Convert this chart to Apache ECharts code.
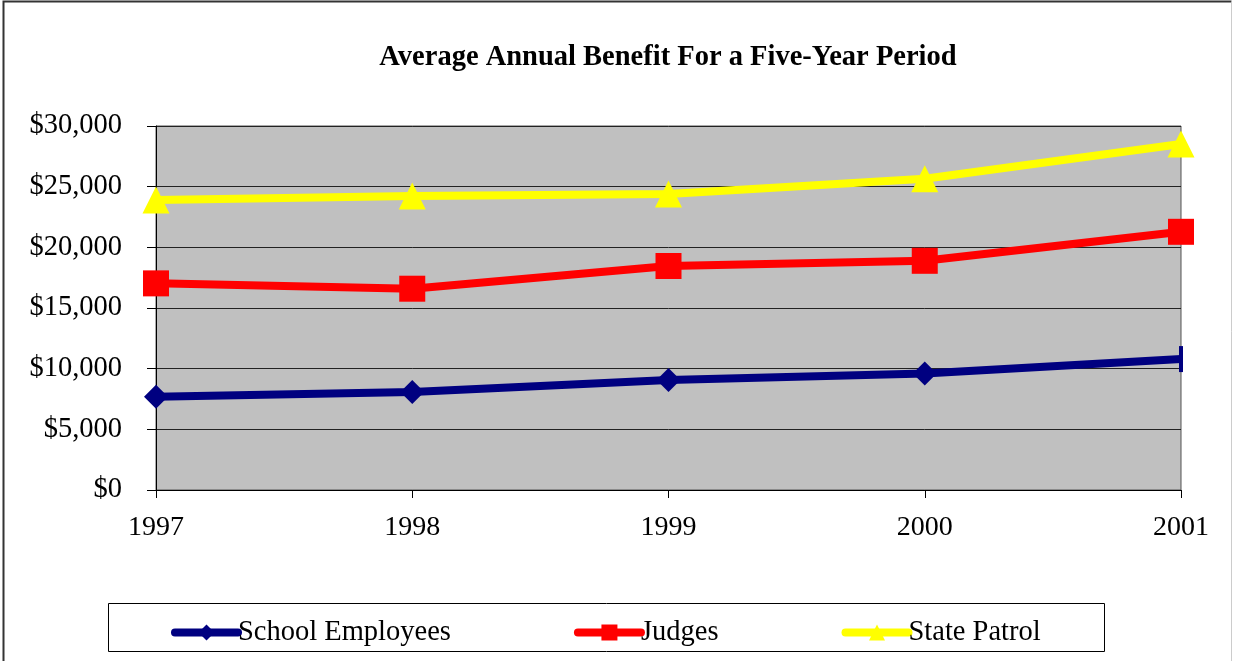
<!DOCTYPE html>
<html>
<head>
<meta charset="utf-8">
<script src="https://cdn.jsdelivr.net/npm/echarts@6/dist/echarts.min.js"></script>
<style>
    html, body { margin: 0; padding: 0; background: #fff; }
    #chart { width: 1233px; height: 661px; }
</style>
</head>
<body>
<div id="chart"></div>
<script>
// data
let years = ['1997', '1998', '1999', '2000', '2001'];
let schoolEmployees = [7690, 8080, 9060, 9610, 10790];
let judges = [17030, 16590, 18460, 18890, 21280];
let statePatrol = [23900, 24230, 24390, 25650, 28520];

let font = '"Liberation Serif", "Times New Roman", serif';

let myChart = echarts.init(document.getElementById('chart'));

// last school marker looks clipped to a thin bar in the original
let schoolData = schoolEmployees.map(function (v, i) {
    if (i === schoolEmployees.length - 1) {
        return {value: v, symbol: 'rect', symbolSize: [4, 26]};
    }
    return v;
});

let option = {
    animation: false,
    backgroundColor: '#fff',
    title: {
        text: 'Average Annual Benefit For a Five-Year Period',
        left: 663,
        textAlign: 'center',
        top: 38,
        textStyle: {
            fontFamily: font,
            fontWeight: 'bold',
            fontSize: 28.5,
            color: '#000'
        }
    },
    legend: {
        left: 166,
        top: 613,
        itemWidth: 63,
        itemHeight: 20,
        itemGap: 123,
        lineStyle: {width: 8, cap: 'round'},
        textStyle: {
            fontFamily: font,
            fontSize: 28.5,
            color: '#000',
            padding: [0, 0, 0, -5]
        },
        data: ['School Employees', 'Judges', 'State Patrol']
    },
    graphic: [
        {
            type: 'rect',
            shape: {x: 108.5, y: 603.5, width: 996, height: 48},
            style: {fill: 'none', stroke: '#000', lineWidth: 1},
            z: -1
        },
        {
            type: 'polyline',
            shape: {points: [[3.5, 670], [3.5, 1.5], [1231.5, 1.5]]},
            style: {fill: 'none', stroke: '#333', lineWidth: 2}
        },
        {
            type: 'line',
            shape: {x1: 1231.5, y1: 1.5, x2: 1231.5, y2: 670},
            style: {stroke: '#ccc', lineWidth: 1}
        }
    ],
    grid: {
        left: 156,
        right: 52,
        top: 126,
        bottom: 171,
        show: true,
        backgroundColor: '#c0c0c0',
        borderColor: '#555',
        borderWidth: 1
    },
    xAxis: {
        type: 'category',
        data: years,
        boundaryGap: false,
        axisLine: {lineStyle: {color: '#000', width: 1}},
        axisTick: {show: true, length: 8, lineStyle: {color: '#000'}},
        axisLabel: {
            fontFamily: font,
            fontSize: 28,
            color: '#000',
            margin: 24
        },
        splitLine: {show: false}
    },
    yAxis: {
        type: 'value',
        min: 0,
        max: 30000,
        interval: 5000,
        axisLine: {show: true, lineStyle: {color: '#000', width: 1}},
        axisTick: {show: true, length: 9, lineStyle: {color: '#000'}},
        axisLabel: {
            fontFamily: font,
            fontSize: 28.5,
            color: '#000',
            margin: 34,
            formatter: function (v) {
                return '$' + v.toLocaleString('en-US');
            }
        },
        splitLine: {show: true, lineStyle: {color: '#222', width: 1}}
    },
    series: [
        {
            name: 'School Employees',
            type: 'line',
            data: schoolData,
            symbol: 'diamond',
            symbolSize: 24,
            itemStyle: {color: '#000080'},
            lineStyle: {color: '#000080', width: 8},
            z: 3
        },
        {
            name: 'Judges',
            type: 'line',
            data: judges,
            symbol: 'rect',
            symbolSize: 26,
            itemStyle: {color: '#ff0000'},
            lineStyle: {color: '#ff0000', width: 8},
            z: 3
        },
        {
            name: 'State Patrol',
            type: 'line',
            data: statePatrol,
            symbol: 'triangle',
            symbolSize: 27,
            itemStyle: {color: '#ffff00'},
            lineStyle: {color: '#ffff00', width: 8},
            z: 3
        }
    ]
};

myChart.setOption(option);
</script>
</body>
</html>
